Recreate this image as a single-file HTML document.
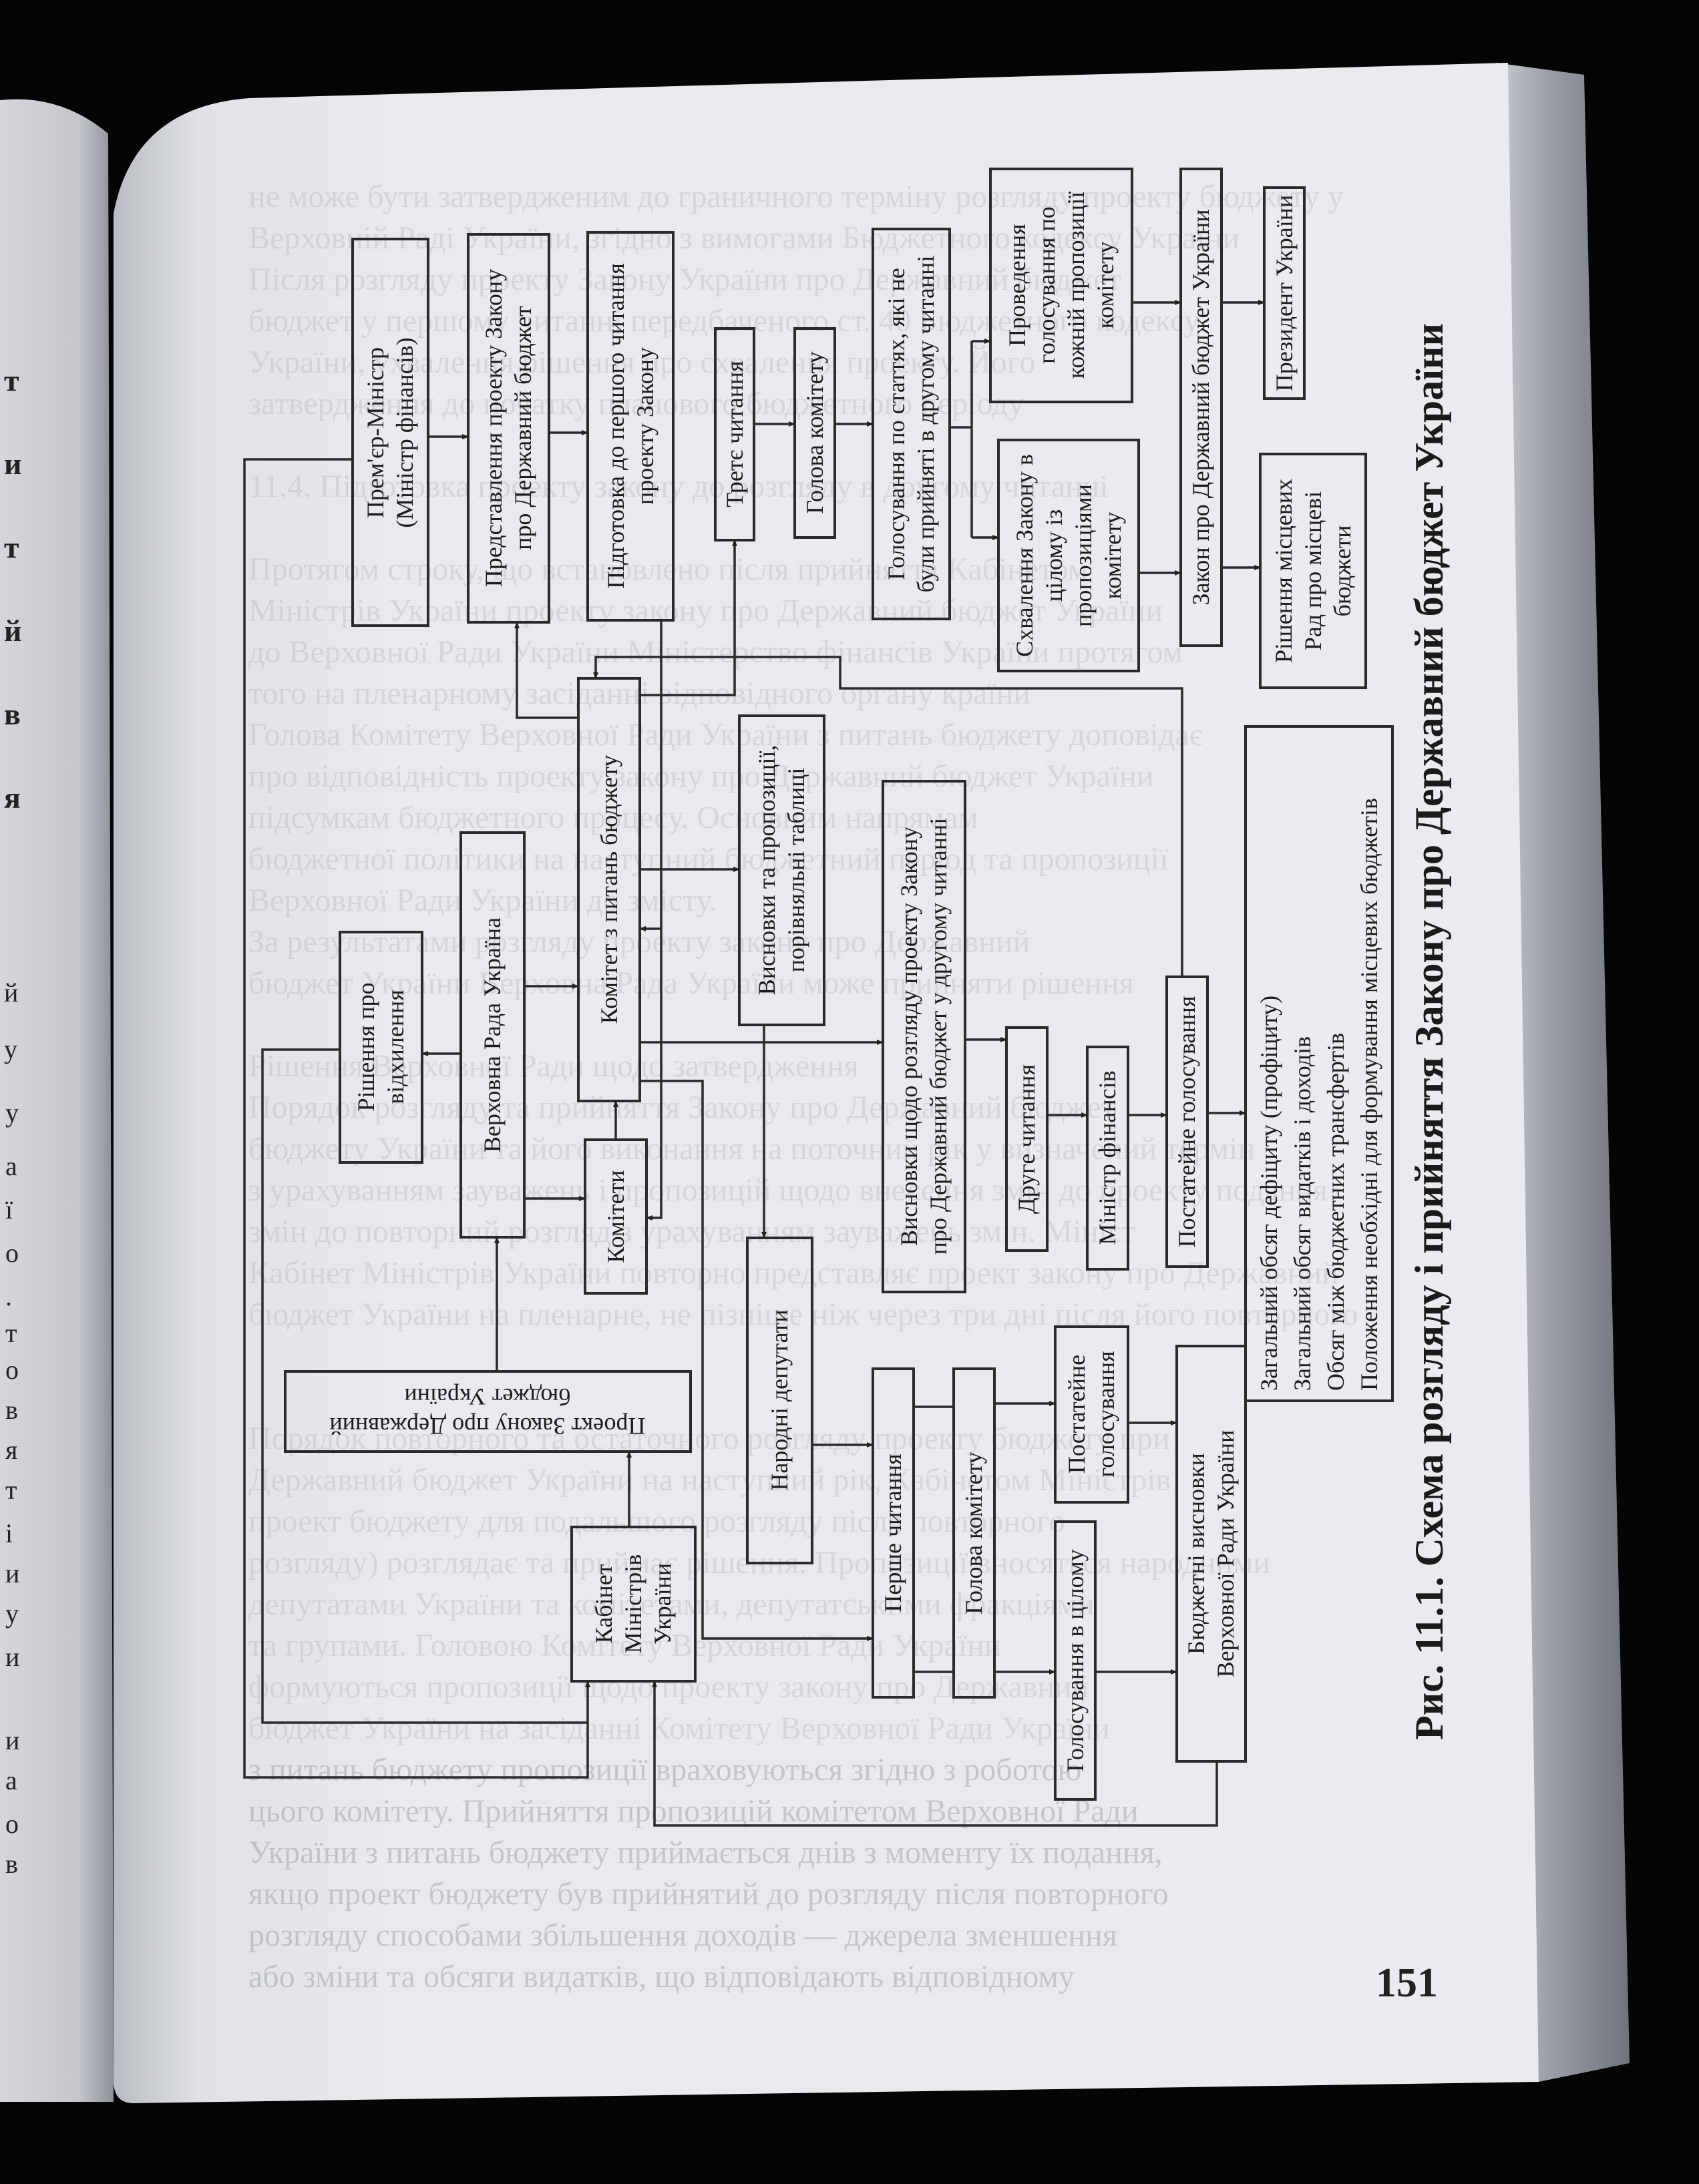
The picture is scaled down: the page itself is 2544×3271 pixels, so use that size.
<!DOCTYPE html>
<html><head><meta charset="utf-8"><style>
html,body{margin:0;padding:0;background:#050505;}
svg{display:block;}
</style></head><body>
<svg width="2544" height="3271" viewBox="0 0 2544 3271" xmlns="http://www.w3.org/2000/svg" font-family="'Liberation Serif', serif">
<defs>
<linearGradient id="lp" x1="0" x2="1" y1="0" y2="0"><stop offset="0" stop-color="#d4d6db"/><stop offset="0.7" stop-color="#c4c6cc"/><stop offset="1" stop-color="#8c8f96"/></linearGradient>
<linearGradient id="mp" x1="0" x2="1" y1="0" y2="0"><stop offset="0" stop-color="#b9bcc2"/><stop offset="0.06" stop-color="#e0e2e7"/><stop offset="0.2" stop-color="#e9eaee"/><stop offset="1" stop-color="#eaebef"/></linearGradient>
<linearGradient id="st" x1="0" x2="1" y1="0" y2="0"><stop offset="0" stop-color="#c8cbd0"/><stop offset="0.4" stop-color="#9a9ea6"/><stop offset="1" stop-color="#6f737b"/></linearGradient>
<marker id="ar" markerWidth="10" markerHeight="10" refX="9" refY="5" orient="auto" markerUnits="userSpaceOnUse" viewBox="0 0 10 10"><path d="M0,1 L10,5 L0,9 z" fill="#222"/></marker>
</defs>
<rect width="2544" height="3271" fill="#050505"/>
<path d="M0,150 Q90,140 162,200 L170,3148 L0,3148 z" fill="url(#lp)"/>
<g font-weight="bold" font-size="46" fill="#222">
<text x="6" y="585">т</text><text x="6" y="710">и</text><text x="6" y="835">т</text><text x="6" y="960">й</text><text x="6" y="1085">в</text><text x="6" y="1210">я</text>
<text x="6" y="1500" font-weight="normal" font-size="40">й</text><text x="6" y="1585" font-weight="normal" font-size="40">у</text>
<g font-weight="normal" font-size="40"><text x="8" y="1680">у</text><text x="8" y="1760">а</text><text x="8" y="1825">ї</text><text x="8" y="1890">о</text><text x="8" y="1955">.</text><text x="8" y="2010">т</text><text x="8" y="2065">о</text><text x="8" y="2125">в</text><text x="8" y="2185">я</text><text x="8" y="2245">т</text><text x="8" y="2310">і</text><text x="8" y="2370">и</text><text x="8" y="2430">у</text><text x="8" y="2495">и</text><text x="8" y="2620">и</text><text x="8" y="2680">а</text><text x="8" y="2745">о</text><text x="8" y="2805">в</text></g>
</g>
<path d="M2240,94 L2372,112 L2440,3090 L2304,3118 z" fill="url(#st)"/>
<path d="M170,320 Q200,160 373,147 L2258,94 L2304,3118 L200,3150 Q172,3150 170,3120 z" fill="url(#mp)"/>
<g font-size="48" fill="#9c9fa8" opacity="0.25">
<text x="372" y="310">не може бути затвердженим до граничного терміну розгляду проекту бюджету у</text>
<text x="372" y="372">Верховній Раді України, згідно з вимогами Бюджетного кодексу України</text>
<text x="372" y="434">Після розгляду проекту Закону України про Державний бюджет</text>
<text x="372" y="496">бюджет у першому читанні передбаченого ст. 40 Бюджетного кодексу</text>
<text x="372" y="558">України, ухвалення рішення про схвалення проекту. Його</text>
<text x="372" y="620">затвердження до початку планового бюджетного періоду</text>
<text x="372" y="744">11.4. Підготовка проекту закону до розгляду в другому читанні</text>
<text x="372" y="868">Протягом строку, що встановлено після прийняття Кабінетом</text>
<text x="372" y="930">Міністрів України проекту закону про Державний бюджет України</text>
<text x="372" y="992">до Верховної Ради України Міністерство фінансів України протягом</text>
<text x="372" y="1054">того на пленарному засіданні відповідного органу країни</text>
<text x="372" y="1116">Голова Комітету Верховної Ради України з питань бюджету доповідає</text>
<text x="372" y="1178">про відповідність проекту закону про Державний бюджет України</text>
<text x="372" y="1240">підсумкам бюджетного процесу. Основним напрямам</text>
<text x="372" y="1302">бюджетної політики на наступний бюджетний період та пропозиції</text>
<text x="372" y="1364">Верховної Ради України до змісту.</text>
<text x="372" y="1426">За результатами розгляду проекту закону про Державний</text>
<text x="372" y="1488">бюджет України Верховна Рада України може прийняти рішення</text>
<text x="372" y="1612">Рішення Верховної Ради щодо затвердження</text>
<text x="372" y="1674">Порядок розгляду та прийняття Закону про Державний бюджет</text>
<text x="372" y="1736">бюджету України та його виконання на поточний рік у визначений термін</text>
<text x="372" y="1798">з урахуванням зауважень і пропозицій щодо внесення змін до проекту подання</text>
<text x="372" y="1860">змін до повторний розгляд з урахуванням зауважень змін. Мініст</text>
<text x="372" y="1922">Кабінет Міністрів України повторно представляє проект закону про Державний</text>
<text x="372" y="1984">бюджет України на пленарне, не пізніше ніж через три дні після його повторного</text>
<text x="372" y="2170">Порядок повторного та остаточного розгляду проекту бюджету при</text>
<text x="372" y="2232">Державний бюджет України на наступний рік, Кабінетом Міністрів</text>
<text x="372" y="2294">проект бюджету для подальшого розгляду після повторного</text>
<text x="372" y="2356">розгляду) розглядає та приймає рішення. Пропозиції вносяться народними</text>
<text x="372" y="2418">депутатами України та комітетами, депутатськими фракціями</text>
<text x="372" y="2480">та групами. Головою Комітету Верховної Ради України</text>
<text x="372" y="2542">формуються пропозиції щодо проекту закону про Державний</text>
<text x="372" y="2604">бюджет України на засіданні Комітету Верховної Ради України</text>
</g>
<g font-size="48" fill="#8a8d96" opacity="0.38">
<text x="372" y="2666">з питань бюджету пропозиції враховуються згідно з роботою</text>
<text x="372" y="2728">цього комітету. Прийняття пропозицій комітетом Верховної Ради</text>
<text x="372" y="2790">України з питань бюджету приймається днів з моменту їх подання,</text>
<text x="372" y="2852">якщо проект бюджету був прийнятий до розгляду після повторного</text>
<text x="372" y="2914">розгляду способами збільшення доходів — джерела зменшення</text>
<text x="372" y="2976">або зміни та обсяги видатків, що відповідають відповідному</text>
</g>
<text x="2060" y="2990" font-size="62" font-weight="bold" fill="#222">151</text>
<text transform="translate(2140,1545) rotate(-90)" text-anchor="middle" dominant-baseline="central" font-size="60" font-weight="bold" fill="#1a1a1a">Рис. 11.1. Схема розгляду і прийняття Закону про Державний бюджет України</text>

<g fill="none" stroke="#2a2a2a" stroke-width="4">
<rect x="528" y="358" width="113" height="579"/>
<rect x="701" y="351" width="121" height="581"/>
<rect x="880" y="348" width="128" height="581"/>
<rect x="1071" y="492" width="58" height="317"/>
<rect x="1190" y="492" width="60" height="313"/>
<rect x="1307" y="343" width="115" height="584"/>
<rect x="1483" y="253" width="212" height="349"/>
<rect x="1495" y="659" width="210" height="346"/>
<rect x="1768" y="253" width="61" height="714"/>
<rect x="1893" y="281" width="60" height="316"/>
<rect x="1887" y="680" width="158" height="350"/>
<rect x="866" y="1016" width="92" height="633"/>
<rect x="1107" y="1072" width="127" height="463"/>
<rect x="1322" y="1170" width="123" height="765"/>
<rect x="509" y="1396" width="123" height="345"/>
<rect x="690" y="1247" width="95" height="606"/>
<rect x="876" y="1707" width="92" height="230"/>
<rect x="427" y="2054" width="607" height="120"/>
<rect x="856" y="2287" width="185" height="231"/>
<rect x="1119" y="1854" width="97" height="487"/>
<rect x="1307" y="2050" width="61" height="492"/>
<rect x="1428" y="2050" width="61" height="492"/>
<rect x="1580" y="1987" width="109" height="263"/>
<rect x="1580" y="2279" width="60" height="416"/>
<rect x="1762" y="2016" width="103" height="622"/>
<rect x="1507" y="1539" width="61" height="334"/>
<rect x="1628" y="1568" width="61" height="333"/>
<rect x="1747" y="1463" width="61" height="434"/>
<rect x="1865" y="1088" width="220" height="1010"/>
</g>

<g fill="none" stroke="#2a2a2a" stroke-width="3.5">
<path d="M641,654 H701" marker-end="url(#ar)"/>
<path d="M822,648 H880" marker-end="url(#ar)"/>
<path d="M1129,635 H1190" marker-end="url(#ar)"/>
<path d="M1250,635 H1307" marker-end="url(#ar)"/>
<path d="M1422,640 H1455 M1455,511 V805"/>
<path d="M1455,511 H1483" marker-end="url(#ar)"/>
<path d="M1455,805 H1495" marker-end="url(#ar)"/>
<path d="M1695,453 H1768" marker-end="url(#ar)"/>
<path d="M1705,858 H1768" marker-end="url(#ar)"/>
<path d="M1829,453 H1893" marker-end="url(#ar)"/>
<path d="M1829,850 H1887" marker-end="url(#ar)"/>
<path d="M866,1075 H774 V932" marker-end="url(#ar)"/>
<path d="M990,929 V1824 H968" marker-end="url(#ar)"/>
<path d="M990,1391 H958" marker-end="url(#ar)"/>
<path d="M958,1041 H1100 V809" marker-end="url(#ar)"/>
<path d="M1770,1463 V1031 H1258 V984 H892 V1016" marker-end="url(#ar)"/>
<path d="M958,1302 H1107" marker-end="url(#ar)"/>
<path d="M958,1561 H1322" marker-end="url(#ar)"/>
<path d="M1144,1535 V1854" marker-end="url(#ar)"/>
<path d="M1445,1557 H1507" marker-end="url(#ar)"/>
<path d="M1568,1670 H1628" marker-end="url(#ar)"/>
<path d="M1689,1670 H1747" marker-end="url(#ar)"/>
<path d="M1808,1667 H1865" marker-end="url(#ar)"/>
<path d="M690,1578 H632" marker-end="url(#ar)"/>
<path d="M785,1477 H866" marker-end="url(#ar)"/>
<path d="M785,1795 H876" marker-end="url(#ar)"/>
<path d="M922,1707 V1649" marker-end="url(#ar)"/>
<path d="M744,2054 V1853" marker-end="url(#ar)"/>
<path d="M942,2287 V2174" marker-end="url(#ar)"/>
<path d="M958,1619 H1052 V2454 H1307" marker-end="url(#ar)"/>
<path d="M1216,2164 H1307" marker-end="url(#ar)"/>
<path d="M1368,2107 H1428 M1368,2504 H1428"/>
<path d="M1489,2102 H1580" marker-end="url(#ar)"/>
<path d="M1489,2504 H1580" marker-end="url(#ar)"/>
<path d="M1689,2131 H1762" marker-end="url(#ar)"/>
<path d="M1640,2504 H1762" marker-end="url(#ar)"/>
<path d="M528,688 H366 V2662 H880 V2518" marker-end="url(#ar)"/>
<path d="M509,1572 H393 V2580 H880"/>
<path d="M1822,2638 V2734 H980 V2518" marker-end="url(#ar)"/>
</g>

<g font-size="36" fill="#1c1c1c" text-anchor="middle" dominant-baseline="central">
<g transform="translate(584,648) rotate(-90)"><text y="-22">Прем'єр-Міністр</text><text y="22">(Міністр фінансів)</text></g>
<g transform="translate(761,641) rotate(-90)"><text y="-22">Представлення проекту Закону</text><text y="22">про Державний бюджет</text></g>
<g transform="translate(944,638) rotate(-90)"><text y="-22">Підготовка до першого читання</text><text y="22">проекту Закону</text></g>
<g transform="translate(1100,650) rotate(-90)"><text>Третє читання</text></g>
<g transform="translate(1220,648) rotate(-90)"><text>Голова комітету</text></g>
<g transform="translate(1364,635) rotate(-90)"><text y="-22">Голосування по статтях, які не</text><text y="22">були прийняті в другому читанні</text></g>
<g transform="translate(1589,427) rotate(-90)"><text y="-66">Проведення</text><text y="-22">голосування по</text><text y="22">кожній пропозиції</text><text y="66">комітету</text></g>
<g transform="translate(1600,832) rotate(-90)"><text y="-66">Схвалення Закону в</text><text y="-22">цілому із</text><text y="22">пропозиціями</text><text y="66">комітету</text></g>
<g transform="translate(1798,610) rotate(-90)"><text>Закон про Державний бюджет України</text></g>
<g transform="translate(1923,439) rotate(-90)"><text>Президент України</text></g>
<g transform="translate(1966,855) rotate(-90)"><text y="-44">Рішення місцевих</text><text y="0">Рад про місцеві</text><text y="44">бюджети</text></g>
<g transform="translate(912,1332) rotate(-90)"><text>Комітет з питань бюджету</text></g>
<g transform="translate(1170,1303) rotate(-90)"><text y="-22">Висновки та пропозиції,</text><text y="22">порівняльні таблиці</text></g>
<g transform="translate(1383,1552) rotate(-90)"><text y="-22">Висновки щодо розгляду проекту Закону</text><text y="22">про Державний бюджет у другому читанні</text></g>
<g transform="translate(570,1568) rotate(-90)"><text y="-22">Рішення про</text><text y="22">відхилення</text></g>
<g transform="translate(737,1550) rotate(-90)"><text>Верховна Рада Україна</text></g>
<g transform="translate(922,1822) rotate(-90)"><text>Комітети</text></g>
<g transform="translate(730,2114) rotate(180)"><text y="-22">Проект Закону про Державний</text><text y="22">бюджет України</text></g>
<g transform="translate(948,2402) rotate(-90)"><text y="-44">Кабінет</text><text y="0">Міністрів</text><text y="44">України</text></g>
<g transform="translate(1167,2097) rotate(-90)"><text>Народні депутати</text></g>
<g transform="translate(1337,2296) rotate(-90)"><text>Перше читання</text></g>
<g transform="translate(1458,2296) rotate(-90)"><text>Голова комітету</text></g>
<g transform="translate(1634,2118) rotate(-90)"><text y="-22">Постатейне</text><text y="22">голосування</text></g>
<g transform="translate(1610,2487) rotate(-90)"><text>Голосування в цілому</text></g>
<g transform="translate(1813,2327) rotate(-90)"><text y="-22">Бюджетні висновки</text><text y="22">Верховної Ради України</text></g>
<g transform="translate(1537,1706) rotate(-90)"><text>Друге читання</text></g>
<g transform="translate(1658,1734) rotate(-90)"><text>Міністр фінансів</text></g>
<g transform="translate(1777,1680) rotate(-90)"><text>Постатейне голосування</text></g>
<g transform="translate(1975,1593) rotate(-90)" text-anchor="start"><text x="-490" y="-75">Загальний обсяг дефіциту (профіциту)</text><text x="-490" y="-25">Загальний обсяг видатків і доходів</text><text x="-490" y="25">Обсяг між бюджетних трансфертів</text><text x="-490" y="75">Положення необхідні для формування місцевих бюджетів</text></g>
</g>
</svg>
</body></html>
